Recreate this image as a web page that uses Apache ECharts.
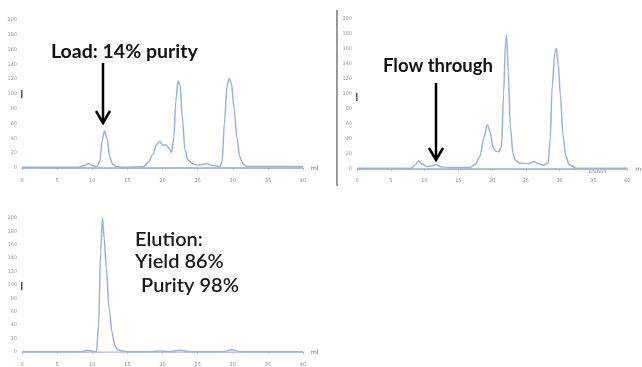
<!DOCTYPE html>
<html><head><meta charset="utf-8">
<script src="https://cdn.jsdelivr.net/npm/echarts@6/dist/echarts.min.js"></script>
<style>html,body{margin:0;padding:0;background:#fff}#c{width:642px;height:367px}</style>
</head><body><div id="c"></div>
<script>
// Load chromatogram
const loadTime = [0, 8.0, 8.8, 9.5, 10.1, 10.7, 11.1, 11.4, 11.75, 12.1, 12.5, 12.9, 13.4, 14.5, 17.3, 18.0, 18.6, 19.2, 19.6, 20.0, 20.5, 21.0, 21.3, 21.6, 21.9, 22.2, 22.5, 22.8, 23.2, 23.6, 24.3, 24.9, 25.8, 26.3, 26.9, 27.5, 28.2, 28.5, 28.8, 29.2, 29.5, 29.8, 30.2, 30.6, 31.0, 31.5, 32.0, 40];
const loadAbs  = [1, 1, 3, 6, 3, 2, 10, 38, 50, 40, 15, 5, 2, 1, 2, 8, 18, 32, 36, 31, 31, 26, 21, 40, 90, 118, 112, 70, 25, 11, 6, 4, 5, 6, 4, 3, 2, 10, 60, 112, 121, 115, 80, 40, 15, 5, 2, 2];
// Flow-through chromatogram
const flowTime = [0, 8.0, 8.6, 9.1, 9.6, 10.3, 11.0, 11.7, 12.4, 13.5, 16.7, 17.5, 18.2, 18.8, 19.3, 19.7, 20.1, 20.5, 21.0, 21.4, 21.7, 22.0, 22.15, 22.4, 22.7, 23.1, 23.5, 24.1, 25.4, 26.2, 26.9, 27.6, 28.3, 28.6, 28.9, 29.3, 29.5, 29.8, 30.1, 30.5, 30.9, 31.4, 32.5, 40];
const flowAbs  = [1, 1, 5, 11, 7, 3.5, 4, 6, 3, 2, 2, 6, 17, 42, 59, 50, 30, 24, 23, 30, 100, 170, 178, 130, 57, 20, 11, 8, 7, 10, 7, 5, 8, 40, 110, 155, 161, 140, 100, 45, 18, 6, 1, 1];
// Elution chromatogram
const eluTime = [0, 8.5, 9.3, 10.0, 10.6, 10.9, 11.2, 11.45, 11.7, 12.0, 12.4, 12.8, 13.2, 13.7, 15, 18.5, 19.6, 20.8, 22.5, 24, 28.7, 29.8, 31, 40];
const eluAbs  = [0.5, 0.5, 2.5, 1, 0.5, 40, 150, 200, 170, 125, 65, 30, 10, 2.5, 0.5, 0.5, 1.5, 0.5, 2.5, 0.5, 0.5, 3.5, 0.5, 0.5];
// Axis ticks
const timeTicks = [0, 5, 10, 15, 20, 25, 30, 35, 40];
const absTicks = [0, 20, 40, 60, 80, 100, 120, 140, 160, 180, 200];
const baseTime = [0, 40];
const baseAbs = [0, 0];

const zip = (a, b) => a.map((v, i) => [v, b[i]]);
const traceColor = '#9bb3d9';
const baseColor = '#5b86c4';

const grids = [
  {left: 22, top: 20, width: 281, height: 148},
  {left: 357, top: 19, width: 271, height: 150},
  {left: 22, top: 218, width: 281, height: 135}
];
const offsets = [5, 4, 5];
const names = ['ml', 'm', 'ml'];

const xAxes = grids.map((g, i) => ({
  type: 'value', gridIndex: i, min: timeTicks[0], max: timeTicks[timeTicks.length - 1],
  interval: timeTicks[1] - timeTicks[0], offset: offsets[i],
  name: names[i], nameGap: 8, nameTextStyle: {fontSize: 6, color: '#666', fontFamily: 'DejaVu Sans'},
  axisLine: {show: true, lineStyle: {color: '#c8ccd4', width: 1}},
  axisTick: {show: true, length: 2, lineStyle: {color: '#bbb'}},
  minorTick: {show: true, splitNumber: 5, length: 1, lineStyle: {color: '#ccc'}},
  splitLine: {show: false},
  axisLabel: {fontSize: 5, color: '#888', margin: 5, fontFamily: 'DejaVu Sans'}
}));
const yAxes = grids.map((g, i) => ({
  type: 'value', gridIndex: i, min: absTicks[0], max: absTicks[absTicks.length - 1],
  interval: absTicks[1] - absTicks[0],
  axisLine: {show: false}, axisTick: {show: false}, splitLine: {show: false},
  axisLabel: {fontSize: 5, color: '#999', margin: 5, fontFamily: 'DejaVu Sans'}
}));

const traces = [zip(loadTime, loadAbs), zip(flowTime, flowAbs), zip(eluTime, eluAbs)];
const series = [];
traces.forEach((d, i) => {
  series.push({type: 'line', xAxisIndex: i, yAxisIndex: i, data: zip(baseTime, baseAbs), symbol: 'none',
    lineStyle: {color: i === 2 ? '#b8c6de' : baseColor, width: 1.2}, silent: true});
  series.push({type: 'line', xAxisIndex: i, yAxisIndex: i, data: d, symbol: 'none', smooth: 0.3,
    smoothMonotone: 'x', lineStyle: {color: traceColor, width: 1.5}, silent: true});
});

const titleFont = 'Lato, "Open Sans", sans-serif';
const arrow = (x, y1, y2) => [
  {type: 'line', shape: {x1: x, y1: y1, x2: x, y2: y2 - 1}, style: {stroke: '#000', lineWidth: 2.5}},
  {type: 'polyline', shape: {points: [[x - 7, y2 - 12], [x, y2], [x + 7, y2 - 12]]}, style: {stroke: '#000', lineWidth: 2.5, fill: null}}
];

const graphic = [
  {type: 'text', left: 51, top: 42, style: {text: 'Load: 14% purity', font: 'bold 19.5px ' + titleFont, fill: '#111'}},
  ...arrow(103, 63, 123),
  {type: 'text', left: 383, top: 57, style: {text: 'Flow through', font: 'bold 18.5px ' + titleFont, fill: '#111'}},
  ...arrow(436, 83, 160),
  {type: 'line', shape: {x1: 337, y1: 10, x2: 337, y2: 186}, style: {stroke: '#333', lineWidth: 1}},
  {type: 'text', left: 589, top: 169, style: {text: 'Elution', font: '5px DejaVu Sans', fill: '#888'}},
  {type: 'text', left: 135, top: 230, style: {text: 'Elution:', font: '600 20px ' + titleFont, fill: '#1a1a1a'}},
  {type: 'text', left: 135, top: 252, style: {text: 'Yield 86%', font: '600 20px ' + titleFont, fill: '#1a1a1a'}},
  {type: 'text', left: 141, top: 276, style: {text: 'Purity 98%', font: '600 20px ' + titleFont, fill: '#1a1a1a'}},
  {type: 'rect', shape: {x: 21, y: 90, width: 1.5, height: 8}, style: {fill: '#555'}},
  {type: 'rect', shape: {x: 356, y: 93, width: 1.5, height: 8}, style: {fill: '#555'}},
  {type: 'rect', shape: {x: 21, y: 282, width: 1.5, height: 8}, style: {fill: '#555'}}
];

const chart = echarts.init(document.getElementById('c'), null, {renderer: 'canvas'});
chart.setOption({
  animation: false,
  backgroundColor: '#fff',
  grid: grids.map(g => Object.assign({containLabel: false}, g)),
  xAxis: xAxes, yAxis: yAxes, series: series, graphic: graphic
});
</script></body></html>
